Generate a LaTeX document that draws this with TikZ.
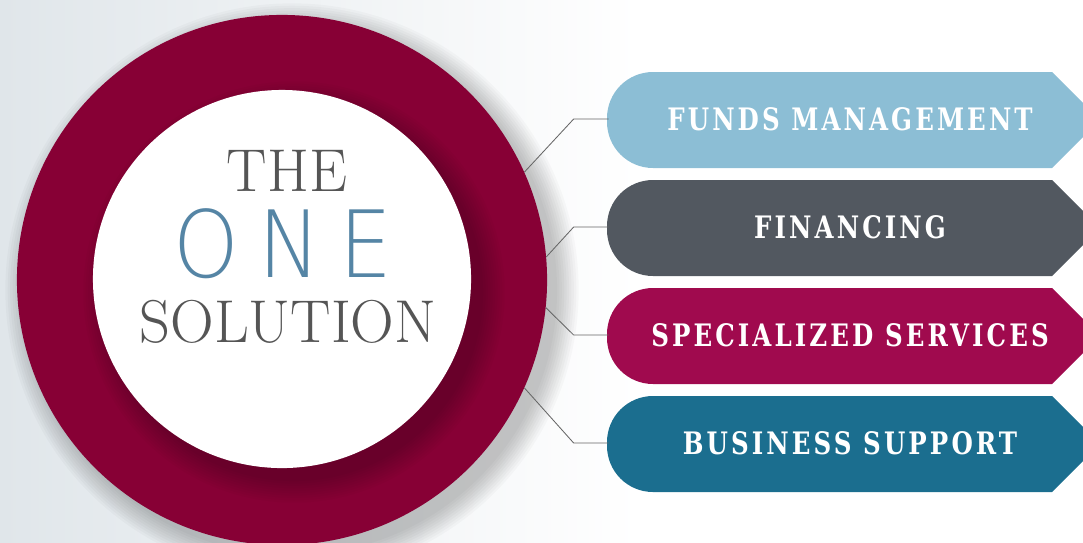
\documentclass[tikz,border=0pt]{standalone}
\usepackage{fontspec}
\newfontfamily\tagfont[FakeStretch=0.88,LetterSpace=10]{DejaVu Serif Condensed}
\newfontfamily\onefont[FakeStretch=0.9,LetterSpace=20]{DejaVu Sans ExtraLight}
\newcommand{\slimrm}{\addfontfeatures{FakeStretch=0.57,LetterSpace=23}}

\definecolor{ringred}{HTML}{870035}
\definecolor{fundsblue}{HTML}{8CBED5}
\definecolor{financegrey}{HTML}{525860}
\definecolor{servicered}{HTML}{A00A4E}
\definecolor{supportblue}{HTML}{1B6E8F}
\definecolor{oneblue}{HTML}{5585A5}
\definecolor{titlegrey}{HTML}{555555}
\definecolor{linkgrey}{HTML}{666666}
\definecolor{bgblue}{HTML}{E0E6EA}

\begin{document}
\begin{tikzpicture}[x=0.025cm,y=-0.025cm,
    link/.style={draw=linkgrey,line width=0.6pt},
    tag/.style={minimum width=12.05cm,minimum height=2.4cm,inner sep=0,text=white,
      font=\fontsize{22}{22}\selectfont\tagfont\bfseries},
    title/.style={inner sep=0,text=titlegrey,font=\fontsize{43}{43}\selectfont\slimrm}]
  \useasboundingbox (0,0) rectangle (1083,542);
  \clip (0,0) rectangle (1083,542);
  % background
  \fill[left color=bgblue,right color=white] (0,0) rectangle (640,542);
  % soft shadow of the ring
  \foreach \r in {0,...,9}
    \fill[black,opacity=0.025] (292,290) circle ({6.625cm+\r*0.06cm});
  \node[circle,fill=ringred,minimum size=13.25cm,inner sep=0] (ring) at (282,280) {};
  \foreach \r in {0,...,9}
    \fill[black,opacity=0.018] (294,292) circle ({4.725cm+\r*0.06cm});
  \node[circle,fill=white,minimum size=9.45cm,inner sep=0] (core) at (282,279) {};
  \node[title] (the) at (287,171) {THE};
  \node[title,text=oneblue,font=\fontsize{66}{66}\selectfont\onefont] (one) at (283,244) {ONE};
  \node[title] (sol) at (288,322) {SOLUTION};
  % tags
  \foreach \y/\c/\t/\n in {120/fundsblue/FUNDS MANAGEMENT/funds,
                           228/financegrey/FINANCING/finance,
                           336/servicered/SPECIALIZED SERVICES/services,
                           444/supportblue/BUSINESS SUPPORT/support}{
    \fill[\c] (830,\y-48) [rounded corners=1.15cm] -- (607,\y-48) -- (607,\y+48)
      -- (830,\y+48) [sharp corners] -- (1052,\y+48) -- (1100,\y) -- (1052,\y-48) -- cycle;
    \node[tag] (\n) at (850,\y-1) {\t};
  }
  \draw[link] (funds.west) -- ++(-35,0) -- (ring.24.5);
  \draw[link] (finance.west) -- ++(-35,0) -- (ring.5.8);
  \draw[link] (services.west) -- ++(-35,0) -- (ring.-6.3);
  \draw[link] (support.west) -- ++(-35,0) -- (ring.-24.9);
\end{tikzpicture}
\end{document}
